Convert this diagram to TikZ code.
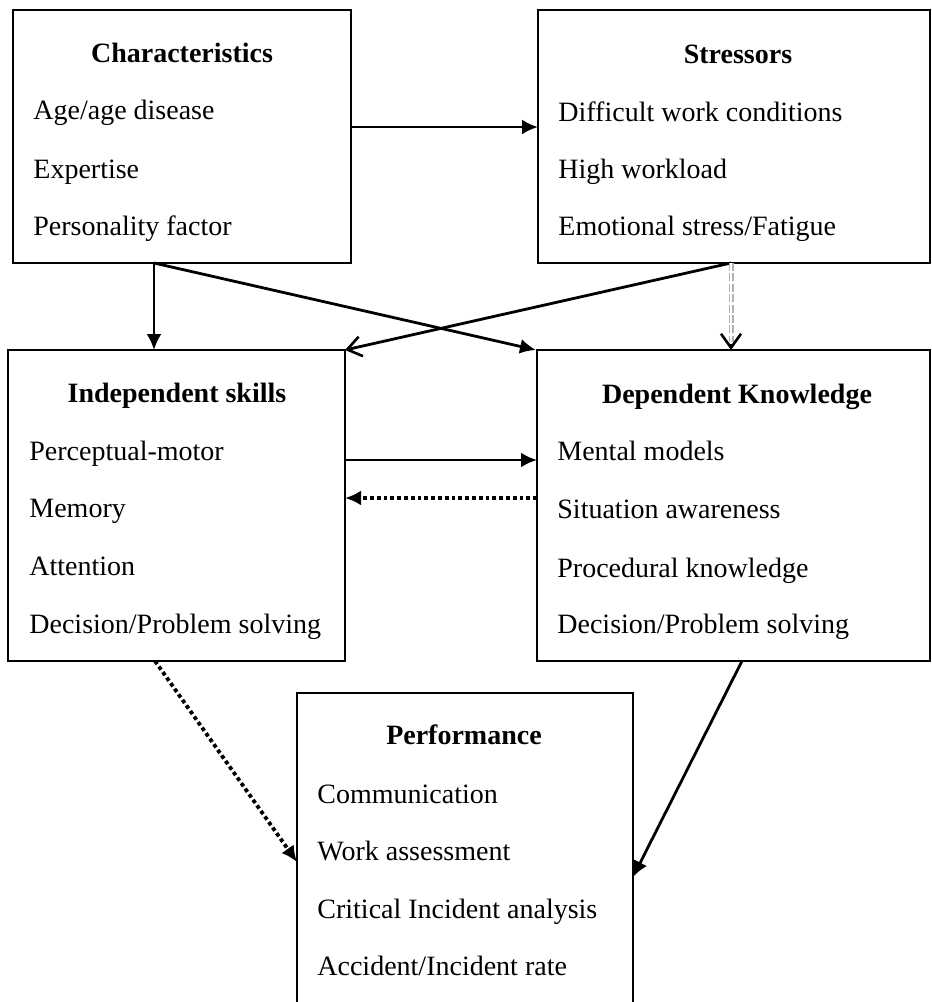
\documentclass[tikz,border=0pt]{standalone}
\usepackage{fontspec}
\setmainfont{Liberation Serif}
\usepackage{tikz}
\usetikzlibrary{calc}
\usetikzlibrary{arrows.meta}
\tikzset{>={Latex[length=8pt,width=7.5pt]}}
\tikzset{
  box/.style={draw, line width=0.9pt, rectangle, inner sep=0pt, outer sep=0pt},
  head/.style={anchor=base, inner sep=0pt, font=\fontsize{14}{16}\selectfont\bfseries},
  item/.style={anchor=base west, inner sep=0pt, font=\fontsize{14}{16}\selectfont},
  link/.style={->, line width=1.4pt},
  openlink/.style={-{Straight Barb[length=7pt,width=10pt,line width=1.3pt]}, line width=1.4pt},
  dotlink/.style={->, line width=1.9pt, dash pattern=on 1.9pt off 1.5pt},
  dbllink/.style={draw=gray!60, line width=0.6pt, double=white, double distance=1.3pt, dash pattern=on 4pt off 1.2pt}
}

\begin{document}
\begin{tikzpicture}[x=0.5pt,y=-0.5pt]
    \useasboundingbox (0,0) rectangle (932,1002);
    % the five boxes
    \node[box, minimum width=169pt, minimum height=126.5pt] (char) at (182,136.5) {};
    \node[box, minimum width=196pt, minimum height=126.5pt] (stress) at (734,136.5) {};
    \node[box, minimum width=168.5pt, minimum height=155.5pt] (indep) at (176.5,505.5) {};
    \node[box, minimum width=196.5pt, minimum height=155.5pt] (dep) at (733.5,505.5) {};
    \node[box, minimum width=168pt, minimum height=160pt] (perf) at (465,853) {};

    \node[head] (charT) at (182,62) {Characteristics};
    \node[item] (charA) at (33,119) {Age/age disease};
    \node[item] (charB) at (33,178) {Expertise};
    \node[item] (charC) at (33,235) {Personality factor};

    \node[head] (stressT) at (738,63) {Stressors};
    \node[item] (stressA) at (558,121) {Difficult work conditions};
    \node[item] (stressB) at (558,178) {High workload};
    \node[item] (stressC) at (558,235) {Emotional stress/Fatigue};

    \node[head] (indepT) at (177,402) {Independent skills};
    \node[item] (indepA) at (29,460) {Perceptual-motor};
    \node[item] (indepB) at (29,517) {Memory};
    \node[item] (indepC) at (29,575) {Attention};
    \node[item] (indepD) at (29,633) {Decision/Problem solving};

    \node[head] (depT) at (737,403) {Dependent Knowledge};
    \node[item] (depA) at (557,460) {Mental models};
    \node[item] (depB) at (557,518) {Situation awareness};
    \node[item] (depC) at (557,577) {Procedural knowledge};
    \node[item] (depD) at (557,633) {Decision/Problem solving};

    \node[head] (perfT) at (464,744) {Performance};
    \node[item] (perfA) at (317,803) {Communication};
    \node[item] (perfB) at (317,860) {Work assessment};
    \node[item] (perfC) at (317,918) {Critical Incident analysis};
    \node[item] (perfD) at (317,975) {Accident/Incident rate};

    % connectors
    \coordinate (charfoot) at (char.south -| 154,0);
    \coordinate (stressfoot) at (stress.south -| 731,0);
    \draw[link] (char.east |- 0,127) -- (stress.west |- 0,127);
    \draw[link] (charfoot) -- (indep.north -| charfoot);
    \draw[link] (charfoot) -- (dep.north -| 536,0);
    \draw[openlink] (stressfoot) -- (indep.north east);
    \draw[dbllink] (stressfoot) -- ($(dep.north -| stressfoot)+(0,-8)$);
    \draw[openlink] ($(dep.north -| stressfoot)+(0,-6)$) -- (dep.north -| stressfoot);
    \draw[link] (indep.east |- 0,460) -- (dep.west |- 0,460);
    \draw[dotlink] (dep.west |- 0,498) -- (indep.east |- 0,498);
    \draw[dotlink] (indep.south -| 155,0) -- (perf.west |- 0,862);
    \draw[link] (dep.south -| 742,0) -- (perf.east |- 0,877);
\end{tikzpicture}
\end{document}
